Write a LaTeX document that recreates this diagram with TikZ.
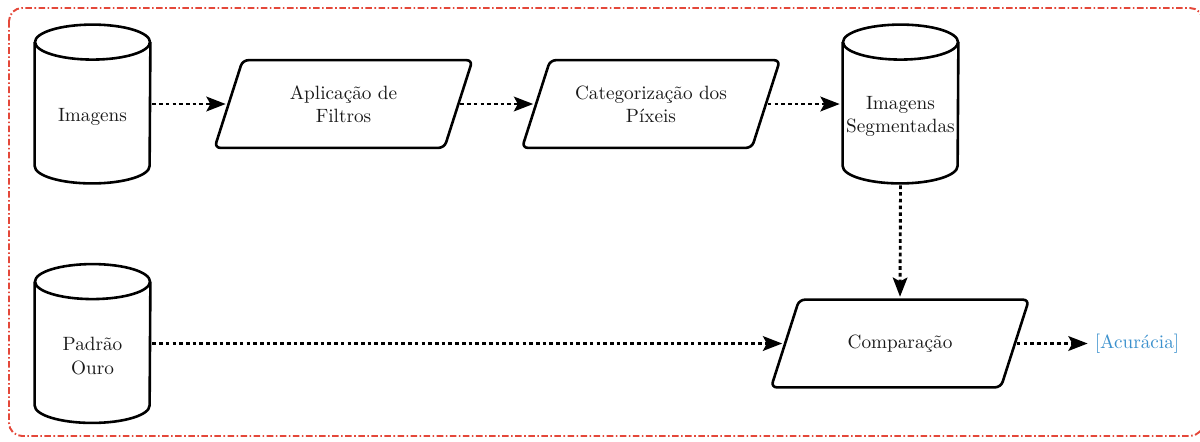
\documentclass[tikz,border=0pt]{standalone}
\usetikzlibrary{calc,arrows.meta}
\definecolor{framered}{RGB}{228,72,58}
\definecolor{accblue}{RGB}{60,145,205}
\definecolor{ink}{RGB}{25,25,25}
\tikzset{
  box/.style={draw=none, inner sep=0pt, align=center, text=ink},
  cylbox/.style={box, minimum width=59.8pt, minimum height=82.2pt},
  parabox/.style={box, minimum width=119.1pt, minimum height=45.2pt},
  cyltext/.style={text=ink, align=center, yshift=-6.5pt, inner sep=0pt},
  outline/.style={line width=1.35pt, draw=black, line join=round},
  flow/.style={line width=1.5pt, dash pattern=on 1.9pt off 1.6pt,
    shorten <=1pt, shorten >=1.5pt,
    -{Stealth[length=10pt,width=7.6pt,inset=2pt]}},
  frameline/.style={draw=framered, line width=1pt,
    dash pattern=on 3.4pt off 1.3pt on 0.8pt off 1.3pt, rounded corners=6.8pt}
}
% cylinder outline around a named box node
\newcommand\drumshape[1]{%
  \draw[outline] ($(#1.north west)+(0,-9.1pt)$) -- ($(#1.south west)+(0,9.1pt)$)
    arc[start angle=180,end angle=360,x radius=29.9pt,y radius=9.1pt]
    -- ($(#1.north east)+(0,-9.1pt)$);
  \draw[outline] ($(#1.north)+(0,-9.1pt)$) ellipse[x radius=29.9pt,y radius=9.1pt];
}
% slanted box outline around a named box node
\newcommand\slantshape[1]{%
  \draw[outline, rounded corners=3pt] ($(#1.south west)+(-7.3pt,0)$)
    -- ($(#1.north west)+(7.3pt,0)$) -- ($(#1.north east)+(7.3pt,0)$)
    -- ($(#1.south east)+(-7.3pt,0)$) -- cycle;
}
\begin{document}
\begin{tikzpicture}[x=0.52pt,y=0.52pt]
  \useasboundingbox (0,0) rectangle (1200,-441);
  \draw[frameline] (9,-8) rectangle (1203,-436);

  % data stores
  \node[cylbox, label={[cyltext, name=imgtxt]center:Imagens}] (img) at (92.5,-104) {};
  \node[cylbox, label={[cyltext, name=segtxt]center:Imagens\\Segmentadas}] (seg) at (900.5,-104) {};
  \node[cylbox, label={[cyltext, name=goldtxt]center:Padrão\\Ouro}] (gold) at (92.5,-343.5) {};
  \drumshape{img}
  \drumshape{seg}
  \drumshape{gold}

  % processing steps
  \node[parabox] (filt) at (343.5,-104) {Aplicação de\\Filtros};
  \node[parabox] (cat) at (651,-104) {Categorização dos\\Píxeis};
  \node[parabox] (cmp) at (900,-343.5) {Comparação};
  \slantshape{filt}
  \slantshape{cat}
  \slantshape{cmp}

  % result
  \node[box, text=accblue] (acc) at (1137,-343.5) {[Acurácia]};

  % flow
  \draw[flow] (img.east) -- (filt.west);
  \draw[flow] (filt.east) -- (cat.west);
  \draw[flow] (cat.east) -- (seg.west);
  \draw[flow] (seg.south) -- (cmp.north);
  \draw[flow] (gold.east) -- (cmp.west);
  \draw[flow] (cmp.east) -- ([xshift=-2pt]acc.west);
\end{tikzpicture}
\end{document}
